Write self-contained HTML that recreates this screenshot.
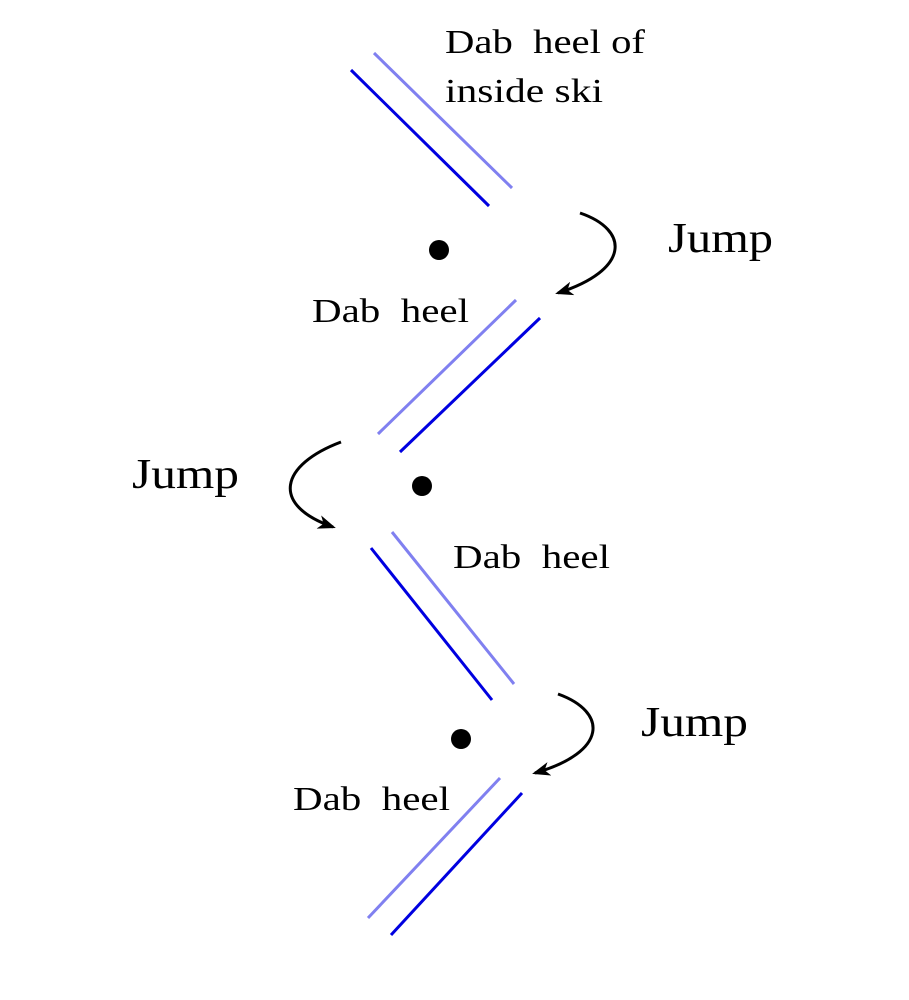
<!DOCTYPE html>
<html><head><style>body{margin:0;background:#fff}svg{display:block}</style></head><body>
<svg width="909" height="1000" viewBox="0 0 909 1000" xmlns="http://www.w3.org/2000/svg">
<defs><marker id="a" markerWidth="18" markerHeight="14" refX="15" refY="7" orient="auto" markerUnits="userSpaceOnUse"><path d="M0,0 L18,7 L0,14 L5,7 Z" fill="#000"/></marker></defs>
<g stroke-width="3" fill="none">
<line x1="351" y1="70" x2="489" y2="206" stroke="#0000e0"/>
<line x1="374" y1="53" x2="512" y2="188" stroke="#8080f0"/>
<line x1="378" y1="434" x2="516" y2="300" stroke="#8080f0"/>
<line x1="400" y1="452" x2="540" y2="318" stroke="#0000e0"/>
<line x1="392" y1="532" x2="514" y2="684" stroke="#8080f0"/>
<line x1="371" y1="548" x2="492" y2="700" stroke="#0000e0"/>
<line x1="368" y1="918" x2="500" y2="778" stroke="#8080f0"/>
<line x1="391" y1="935" x2="522" y2="793" stroke="#0000e0"/>
</g>
<g fill="#000"><circle cx="439" cy="250" r="10"/><circle cx="422" cy="486" r="10"/><circle cx="461" cy="739" r="10"/></g>
<g stroke="#000" stroke-width="3" fill="none">
<path d="M580,213 C630,230 630,270 558,293" marker-end="url(#a)"/>
<path d="M341,442 C280,465 270,505 333,527" marker-end="url(#a)"/>
<path d="M558,694 C608,712 608,752 535,773" marker-end="url(#a)"/>
</g>
<g font-family="Liberation Serif, serif" fill="#000">
<text x="445" y="53" font-size="34" textLength="200" lengthAdjust="spacingAndGlyphs" xml:space="preserve">Dab  heel of</text>
<text x="445" y="102" font-size="34" textLength="158" lengthAdjust="spacingAndGlyphs">inside ski</text>
<text x="668" y="252" font-size="42" textLength="105" lengthAdjust="spacingAndGlyphs">Jump</text>
<text x="312" y="322" font-size="34" textLength="157" lengthAdjust="spacingAndGlyphs" xml:space="preserve">Dab  heel</text>
<text x="132" y="488" font-size="42" textLength="107" lengthAdjust="spacingAndGlyphs">Jump</text>
<text x="453" y="568" font-size="34" textLength="157" lengthAdjust="spacingAndGlyphs" xml:space="preserve">Dab  heel</text>
<text x="641" y="736" font-size="42" textLength="107" lengthAdjust="spacingAndGlyphs">Jump</text>
<text x="293" y="810" font-size="34" textLength="157" lengthAdjust="spacingAndGlyphs" xml:space="preserve">Dab  heel</text>
</g>
</svg>
</body></html>
